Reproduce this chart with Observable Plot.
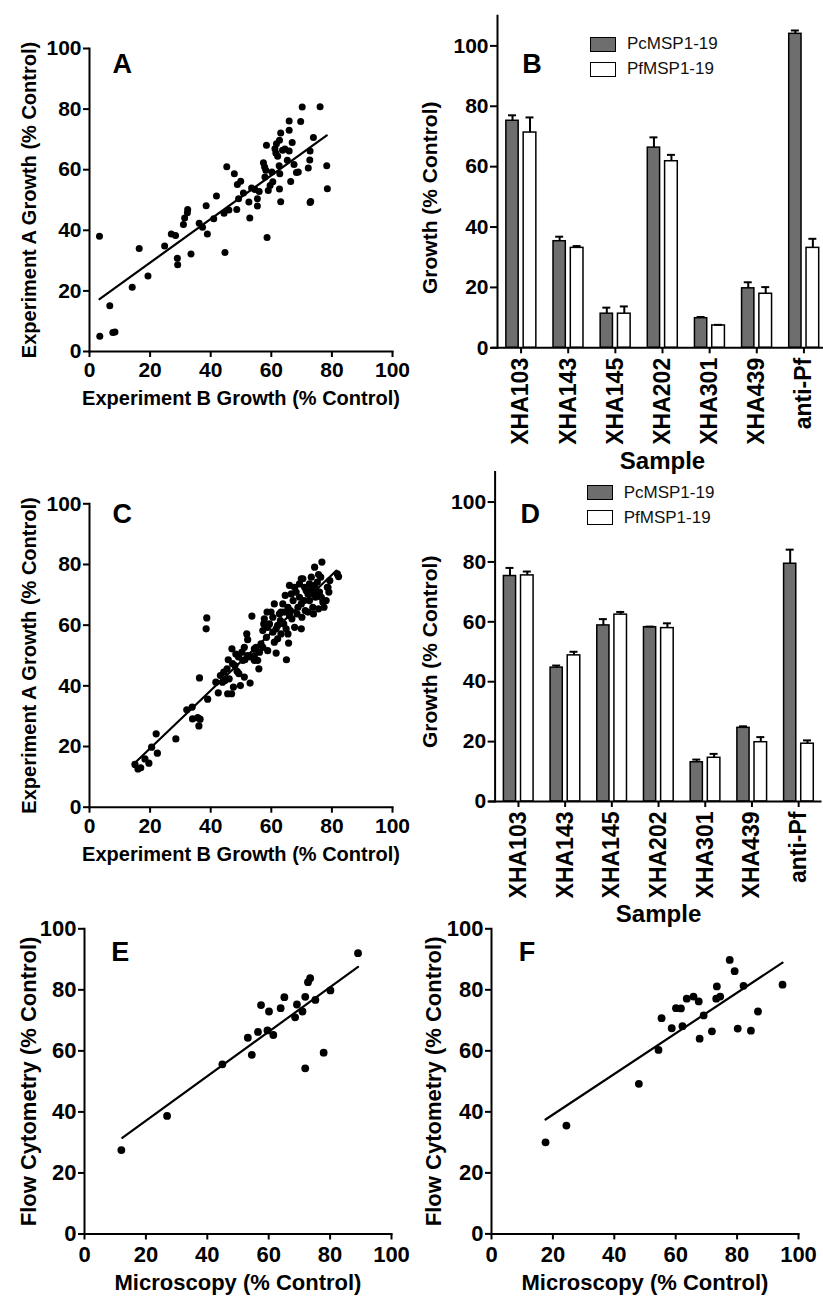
<!DOCTYPE html>
<html><head><meta charset="utf-8">
<script src="https://cdn.jsdelivr.net/npm/d3@7"></script>
<script src="https://cdn.jsdelivr.net/npm/@observablehq/plot@0.6"></script>
<style>
html,body{margin:0;padding:0;background:#fff;overflow:hidden}
#fig{position:relative;width:823px;height:1296px;overflow:hidden;font-family:"Liberation Sans",Arial,Helvetica,sans-serif}
.panel{position:absolute}
.legend{position:absolute;font:17px "Liberation Sans",Arial,Helvetica,sans-serif;color:#111}
.legend .row{display:flex;align-items:center;height:25px;white-space:nowrap}
.legend .sw{width:26px;height:15px;border:1.5px solid #000;margin-right:11px;box-sizing:border-box}
</style></head><body><div id="fig"></div><script>
// ---------- data ----------
const pctTicks = [0, 20, 40, 60, 80, 100];
const samples = ["XHA103", "XHA143", "XHA145", "XHA202", "XHA301", "XHA439", "anti-Pf"];
const seriesNames = ["PcMSP1-19", "PfMSP1-19"];
const seriesColors = ["#6e6e6e", "#ffffff"];

// Panel B (means and upper error)
const bPc    = [75.2, 35.3, 11.3, 66.3, 9.8, 19.7, 104.0];
const bPcErr = [1.8, 1.5, 2.0, 3.4, 0.4, 2.0, 1.1];
const bPf    = [71.3, 33.1, 11.3, 61.8, 7.4, 17.9, 33.1];
const bPfErr = [5.0, 0.6, 2.4, 2.1, 0.2, 2.2, 3.0];
// Panel D
const dPc    = [75.3, 44.7, 58.8, 58.2, 13.1, 24.6, 79.4];
const dPcErr = [2.7, 0.7, 2.1, 0.2, 0.9, 0.5, 4.7];
const dPf    = [75.5, 48.8, 62.4, 57.9, 14.6, 19.8, 19.3];
const dPfErr = [1.3, 1.2, 0.9, 1.6, 1.3, 1.7, 1.1];

// Panel A: [Experiment B, Experiment A]
const ptsA = [[3.3,38.0],[3.4,5.0],[6.7,15.1],[7.7,6.3],[8.4,6.4],[14.1,21.2],[16.4,34.0],[19.3,24.9],[24.8,34.8],[27.0,38.8],[28.4,38.3],[29.0,30.8],[29.1,28.6],[31.0,41.9],[31.4,44.1],[32.3,45.8],[32.4,46.9],[33.5,32.2],[36.2,42.3],[37.3,41.0],[38.5,48.1],[38.9,38.8],[41.0,43.8],[41.9,51.3],[44.4,45.6],[46.0,46.7],[44.7,32.7],[45.3,61.0],[47.8,58.7],[48.6,46.9],[48.8,55.1],[49.9,56.2],[49.2,50.4],[50.8,52.3],[52.6,49.3],[52.9,44.1],[53.5,54.0],[54.6,53.5],[55.4,50.4],[55.4,48.0],[56.0,52.8],[57.4,62.3],[57.8,60.9],[57.9,57.6],[58.2,59.8],[58.4,68.1],[58.6,37.6],[59.0,53.1],[59.6,54.8],[60.2,59.2],[60.5,56.0],[61.2,66.9],[61.5,65.5],[61.7,68.6],[62.1,64.4],[62.7,69.7],[63.1,72.1],[62.6,61.3],[62.8,58.7],[62.7,53.6],[63.1,49.4],[63.7,66.4],[64.5,66.8],[65.3,63.1],[65.9,66.2],[65.9,76.1],[65.9,73.0],[66.4,56.1],[66.9,69.0],[67.5,61.7],[68.3,59.1],[68.9,59.2],[69.7,75.9],[70.2,80.7],[72.2,60.6],[72.7,63.2],[72.8,66.2],[72.8,49.2],[73.0,49.5],[73.9,70.6],[76.1,80.8],[78.3,61.3],[78.5,53.7]];
const fitA = [[3.3,17.3],[78.3,71.3]];

// Panel C
const ptsC = [[15.0,14.1],[16.0,12.6],[16.9,13.0],[18.3,15.9],[19.6,14.5],[20.5,19.8],[22.0,24.2],[22.4,17.8],[28.5,22.5],[32.1,32.1],[33.9,33.0],[34.0,29.1],[35.7,29.5],[36.5,29.0],[36.1,26.8],[36.3,42.6],[38.7,62.4],[38.5,58.8],[39.0,35.6],[42.5,37.7],[43.2,43.4],[44.3,44.5],[44.7,41.8],[46.1,42.3],[45.8,48.6],[46.9,37.4],[47.5,39.6],[47.0,52.2],[48.0,46.7],[48.7,44.8],[49.8,40.1],[51.1,42.9],[53.0,40.9],[49.2,49.5],[50.3,51.1],[51.3,48.6],[51.1,52.7],[51.9,57.1],[52.2,55.2],[53.6,63.0],[53.1,49.5],[54.4,50.0],[55.5,48.4],[55.9,45.6],[55.0,52.7],[56.6,53.8],[57.2,58.2],[57.7,62.1],[58.4,56.0],[58.8,51.6],[59.4,60.4],[59.9,64.3],[60.5,57.7],[61.0,54.4],[61.6,50.8],[62.1,59.9],[62.7,63.7],[63.2,57.1],[63.8,67.0],[64.1,60.4],[64.6,69.8],[65.0,48.6],[65.7,54.1],[65.5,57.1],[66.0,73.1],[66.3,64.8],[66.8,62.1],[67.2,68.1],[67.7,59.3],[68.2,70.9],[68.8,65.9],[69.3,73.6],[69.9,58.8],[70.1,62.6],[70.4,75.3],[70.8,68.1],[71.2,64.8],[71.5,71.4],[72.1,64.3],[72.6,68.1],[73.2,75.8],[73.4,72.0],[73.7,65.9],[74.3,79.1],[74.6,69.2],[75.2,74.2],[75.6,65.4],[75.9,70.9],[76.3,75.8],[76.7,80.8],[77.0,67.6],[77.4,65.9],[78.1,68.1],[78.5,72.5],[79.0,70.9],[79.3,74.7],[81.8,76.9],[82.2,76.0],[66.6,70.3],[64.3,64.3],[63.0,61.5],[61.6,58.8],[58.8,59.3],[57.2,52.7],[56.1,51.1],[54.4,52.2],[52.2,50.0],[50.6,48.4],[48.3,50.5],[47.2,47.3],[45.4,45.6],[43.9,41.2],[41.7,41.2],[45.6,37.4],[69.3,69.2],[67.7,72.5],[71.0,72.5],[72.6,73.6],[74.3,73.1],[75.4,70.9],[76.5,69.2],[73.7,70.3],[72.1,70.3],[69.9,67.0],[68.5,63.7],[65.5,65.9],[63.2,64.3],[60.5,62.6],[62.1,55.5],[64.9,58.8],[69.9,75.3],[75.6,76.7],[73.9,63.7],[78.7,72.5],[66.0,63.2],[61.0,67.0],[58.6,64.3],[57.5,60.4],[54.4,48.4],[49.3,44.0]];
const fitC = [[15.2,14.8],[81.5,78.0]];

// Panel E: [Microscopy, Flow Cytometry]
const ptsE = [[12.0,27.5],[26.9,38.7],[44.9,55.6],[53.2,64.3],[54.5,58.7],[56.5,66.2],[57.5,75.0],[59.6,66.7],[60.1,72.9],[61.5,65.2],[63.9,74.0],[65.1,77.6],[68.6,71.0],[69.2,75.2],[71.0,72.9],[71.9,77.7],[71.9,54.3],[72.8,82.5],[73.5,83.8],[75.2,76.7],[77.9,59.4],[80.1,79.8],[89.1,92.0]];
const fitE = [[12.3,31.5],[89.1,87.5]];

// Panel F
const ptsF = [[17.6,30.0],[24.4,35.5],[48.0,49.2],[54.4,60.3],[55.4,70.7],[58.7,67.4],[60.1,74.0],[61.7,73.9],[62.2,68.1],[63.6,77.1],[65.8,77.8],[67.5,76.2],[67.8,64.0],[69.1,71.6],[71.8,66.4],[73.2,77.1],[74.5,77.8],[73.4,81.1],[77.6,89.8],[79.2,86.1],[80.2,67.3],[82.1,81.3],[84.5,66.6],[86.8,72.9],[94.8,81.7]];
const fitF = [[17.6,37.5],[94.8,88.9]];

// ---------- drawing ----------
const FONT = '"Liberation Sans", Arial, Helvetica, sans-serif';
const fig = document.getElementById("fig");
function place(node, left, top, w) {
  const d = document.createElement("div");
  d.className = "panel";
  d.style.left = left + "px"; d.style.top = top + "px"; d.style.width = w + "px";
  d.appendChild(node); fig.appendChild(d);
}
const baseStyle = {background: "transparent", fontFamily: FONT, color: "#000", overflow: "visible"};

function scatterPanel(p) {
  return Plot.plot({
    width: p.W, height: p.H,
    marginLeft: p.ml, marginRight: p.mr, marginTop: p.mt, marginBottom: p.mb,
    style: baseStyle,
    x: {domain: [0, 100]},
    y: {domain: [0, 100]},
    marks: [
      Plot.axisX({ticks: pctTicks, tickSize: 6, tickPadding: p.xPad, fontSize: p.tickFont, fontWeight: "bold", strokeWidth: 2, label: null}),
      Plot.axisY({ticks: pctTicks, tickSize: 6, tickPadding: 2, fontSize: p.tickFont, fontWeight: "bold", strokeWidth: 2, label: null}),
      Plot.frame({anchor: "left", strokeWidth: 2}),
      Plot.frame({anchor: "bottom", strokeWidth: 2}),
      Plot.line(p.fit, {x: d => d[0], y: d => d[1], strokeWidth: 2.2}),
      Plot.dot(p.pts, {x: d => d[0], y: d => d[1], r: p.r, fill: "#000"}),
      Plot.text([p.xLabel], {text: d => d, frameAnchor: "bottom", dy: p.xLabelDy, textAnchor: "middle", lineAnchor: "middle", fontSize: p.labelFont, fontWeight: "bold"}),
      Plot.text([p.yLabel], {text: d => d, frameAnchor: "left", dx: p.yLabelDx, rotate: -90, textAnchor: "middle", lineAnchor: "middle", fontSize: p.labelFont, fontWeight: "bold"}),
      Plot.text([p.letter], {text: d => d, frameAnchor: "top-left", dx: p.letterDx, dy: p.letterDy, textAnchor: "start", lineAnchor: "top", fontSize: 27, fontWeight: "bold"})
    ]
  });
}

function barPanel(p) {
  const rows = samples.map((s, i) => ({sample: s, pc: p.pc[i], pcTop: p.pc[i] + p.pcErr[i], pf: p.pf[i], pfTop: p.pf[i] + p.pfErr[i]}));
  const step = (p.W - p.ml - p.mr) / samples.length;
  const pcL = 0.188 * step, pcR = 0.449 * step, pfL = 0.555 * step, pfR = 0.824 * step;
  const pcC = (pcL + pcR) / 2, pfC = (pfL + pfR) / 2, cap = 4;
  return Plot.plot({
    width: p.W, height: p.H,
    marginLeft: p.ml, marginRight: p.mr, marginTop: p.mt, marginBottom: p.mb,
    style: baseStyle,
    x: {type: "band", domain: samples, padding: 0, round: false},
    y: {domain: [0, 110]},
    marks: [
      Plot.barY(rows, {x: "sample", y: "pc", fill: seriesColors[0], stroke: "#000", strokeWidth: 1.5, insetLeft: pcL, insetRight: step - pcR}),
      Plot.barY(rows, {x: "sample", y: "pf", fill: seriesColors[1], stroke: "#000", strokeWidth: 1.5, insetLeft: pfL, insetRight: step - pfR}),
      Plot.ruleX(rows, {x: "sample", y1: "pc", y2: "pcTop", dx: pcC - step / 2, strokeWidth: 2}),
      Plot.ruleX(rows, {x: "sample", y1: "pf", y2: "pfTop", dx: pfC - step / 2, strokeWidth: 2}),
      Plot.tickY(rows, {x: "sample", y: "pcTop", insetLeft: pcC - cap, insetRight: step - pcC - cap, strokeWidth: 2}),
      Plot.tickY(rows, {x: "sample", y: "pfTop", insetLeft: pfC - cap, insetRight: step - pfC - cap, strokeWidth: 2}),
      Plot.axisY({ticks: pctTicks, tickSize: 7, tickPadding: 2, fontSize: 21, fontWeight: "bold", strokeWidth: 2, label: null}),
      Plot.axisX({tickRotate: -90, tickSize: 6, tickPadding: 4, fontSize: 23, fontWeight: "bold", strokeWidth: 2, label: null}),
      Plot.frame({anchor: "left", strokeWidth: 2}),
      Plot.ruleY([0], {strokeWidth: 2, insetLeft: -6}),
      Plot.text(["Sample"], {text: d => d, frameAnchor: "bottom", dy: p.sampleDy, textAnchor: "middle", lineAnchor: "middle", fontSize: 24, fontWeight: "bold"}),
      Plot.text(["Growth (% Control)"], {text: d => d, frameAnchor: "left", dx: p.yLabelDx, dy: p.yLabelDy, rotate: -90, textAnchor: "middle", lineAnchor: "middle", fontSize: 21, fontWeight: "bold"}),
      Plot.text([p.letter], {text: d => d, frameAnchor: "top-left", dx: p.letterDx, dy: p.letterDy, textAnchor: "start", lineAnchor: "top", fontSize: 27, fontWeight: "bold"})
    ]
  });
}

function legend(left, top) {
  const el = document.createElement("div");
  el.className = "legend";
  el.style.left = left + "px"; el.style.top = top + "px";
  seriesNames.forEach((name, i) => {
    const row = document.createElement("div"); row.className = "row";
    const sw = document.createElement("span"); sw.className = "sw"; sw.style.background = seriesColors[i];
    const t = document.createElement("span"); t.textContent = name;
    row.appendChild(sw); row.appendChild(t); el.appendChild(row);
  });
  fig.appendChild(el);
}

// Panel A
place(scatterPanel({W: 420, H: 420, ml: 89, mr: 28, mt: 48, mb: 69, pts: ptsA, fit: fitA, r: 3.5,
  tickFont: 21, labelFont: 20, xPad: 5, xLabelDy: 47, yLabelDx: -60,
  xLabel: "Experiment B Growth (% Control)", yLabel: "Experiment A Growth (% Control)",
  letter: "A", letterDx: 23, letterDy: 5}), 0, 0, 420);
// Panel C
place(scatterPanel({W: 420, H: 440, ml: 89, mr: 28, mt: 83.3, mb: 53.3, pts: ptsC, fit: fitC, r: 3.6,
  tickFont: 21, labelFont: 20, xPad: 5, xLabelDy: 47, yLabelDx: -60,
  xLabel: "Experiment B Growth (% Control)", yLabel: "Experiment A Growth (% Control)",
  letter: "C", letterDx: 23, letterDy: 0}), 0, 420, 420);
// Panel E
place(scatterPanel({W: 420, H: 436, ml: 84, mr: 29, mt: 68.3, mb: 62.5, pts: ptsE, fit: fitE, r: 3.9,
  tickFont: 22, labelFont: 22, xPad: 6.5, xLabelDy: 49, yLabelDx: -56,
  xLabel: "Microscopy (% Control)", yLabel: "Flow Cytometry (% Control)",
  letter: "E", letterDx: 26.7, letterDy: 12.7}), 0, 860, 420);
// Panel F
place(scatterPanel({W: 403, H: 436, ml: 71, mr: 25, mt: 68.3, mb: 62.6, pts: ptsF, fit: fitF, r: 3.9,
  tickFont: 22, labelFont: 22, xPad: 6.5, xLabelDy: 49, yLabelDx: -58,
  xLabel: "Microscopy (% Control)", yLabel: "Flow Cytometry (% Control)",
  letter: "F", letterDx: 27.3, letterDy: 13.4}), 420, 860, 403);
// Panel B
place(barPanel({W: 410, H: 480, ml: 77, mr: 3, mt: 15.2, mb: 132.7, pc: bPc, pcErr: bPcErr, pf: bPf, pfErr: bPfErr,
  sampleDy: 114, yLabelDx: -67, yLabelDy: 16, letter: "B", letterDx: 24.7, letterDy: 37.8}), 420, 0, 410);
// Panel D
place(barPanel({W: 410, H: 470, ml: 74.6, mr: 8.5, mt: 11.6, mb: 129, pc: dPc, pcErr: dPcErr, pf: dPf, pfErr: dPfErr,
  sampleDy: 113, yLabelDx: -64.6, yLabelDy: 15, letter: "D", letterDx: 25.4, letterDy: 31.4}), 420, 460, 410);

legend(590, 31.5);
legend(586.7, 480);
</script></body></html>
